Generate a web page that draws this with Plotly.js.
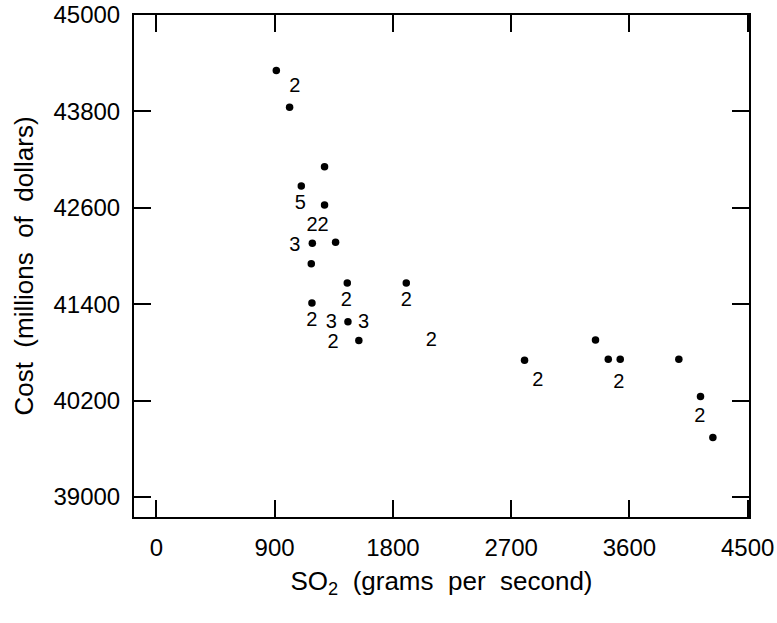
<!DOCTYPE html>
<html>
<head>
<meta charset="utf-8">
<script src="https://cdn.plot.ly/plotly-3.0.1.min.js"></script>
<style>html,body{margin:0;padding:0;background:#fff;}#chart{width:777px;height:623px;}</style>
</head>
<body>
<div id="chart"></div>
<script>
// Points (SO2 grams per second, cost in millions of dollars)
var so2 = [913, 1014, 1280, 1103, 1280, 1187, 1364, 1179, 1453, 1902, 1184, 1458, 1541, 2802, 3342, 3439, 3530, 3976, 4141, 4235];
var cost = [44308, 43853, 43110, 42871, 42635, 42159, 42172, 41904, 41664, 41664, 41416, 41181, 40950, 40702, 40954, 40715, 40715, 40715, 40251, 39743];

// Multiplicity labels
var labelX = [1053, 1096, 1227, 1053, 1446, 1902, 1184, 1331, 1577, 1344, 2092, 2903, 3519, 4135];
var labelY = [44101, 42643, 42379, 42119, 41437, 41437, 41189, 41168, 41168, 40920, 40942, 40446, 40425, 39991];
var labelText = ["2", "5", "22", "3", "2", "2", "2", "3", "3", "2", "2", "2", "2", "2"];

var xTicks = [0, 900, 1800, 2700, 3600, 4500];
var yTicks = [39000, 40200, 41400, 42600, 43800, 45000];

var font = "Liberation Sans, Arial, Helvetica, sans-serif";

var traces = [
  {
    x: so2, y: cost, type: "scatter", mode: "markers",
    marker: {color: "#000", size: 7.5},
    hoverinfo: "none", showlegend: false, cliponaxis: false
  },
  {
    x: labelX, y: labelY, text: labelText, type: "scatter", mode: "text",
    textposition: "middle center",
    textfont: {family: font, size: 20, color: "#000"},
    hoverinfo: "none", showlegend: false, cliponaxis: false
  }
];

var layout = {
  width: 777, height: 623,
  margin: {l: 134, r: 28, t: 15, b: 106},
  paper_bgcolor: "#fff", plot_bgcolor: "#fff",
  font: {family: font, color: "#000"},
  xaxis: {
    range: [-170, 4510],
    tickvals: xTicks, ticktext: xTicks.map(String),
    ticks: "inside", ticklen: 17, tickwidth: 2, tickcolor: "#000",
    showline: true, linecolor: "#000", linewidth: 2, mirror: "ticks",
    showgrid: false, zeroline: false,
    tickfont: {family: font, size: 24, color: "#000"},
    ticklabelstandoff: 8,
    title: {text: "\u00A0\u00A0\u00A0\u00A0SO<sub>2</sub>\u00A0 (grams\u00A0 per\u00A0 second)", font: {family: font, size: 26, color: "#000"}, standoff: 12}
  },
  yaxis: {
    range: [38752, 45000],
    tickvals: yTicks, ticktext: yTicks.map(String),
    ticks: "inside", ticklen: 17, tickwidth: 2, tickcolor: "#000",
    showline: true, linecolor: "#000", linewidth: 2, mirror: "ticks",
    showgrid: false, zeroline: false,
    tickfont: {family: font, size: 24, color: "#000"},
    ticklabelstandoff: 7,
    title: {text: "\u00A0\u00A0\u00A0Cost\u00A0 (millions\u00A0 of\u00A0 dollars)", font: {family: font, size: 26, color: "#000"}, standoff: 12}
  }
};

Plotly.newPlot("chart", traces, layout, {staticPlot: true, displayModeBar: false});
</script>
</body>
</html>
